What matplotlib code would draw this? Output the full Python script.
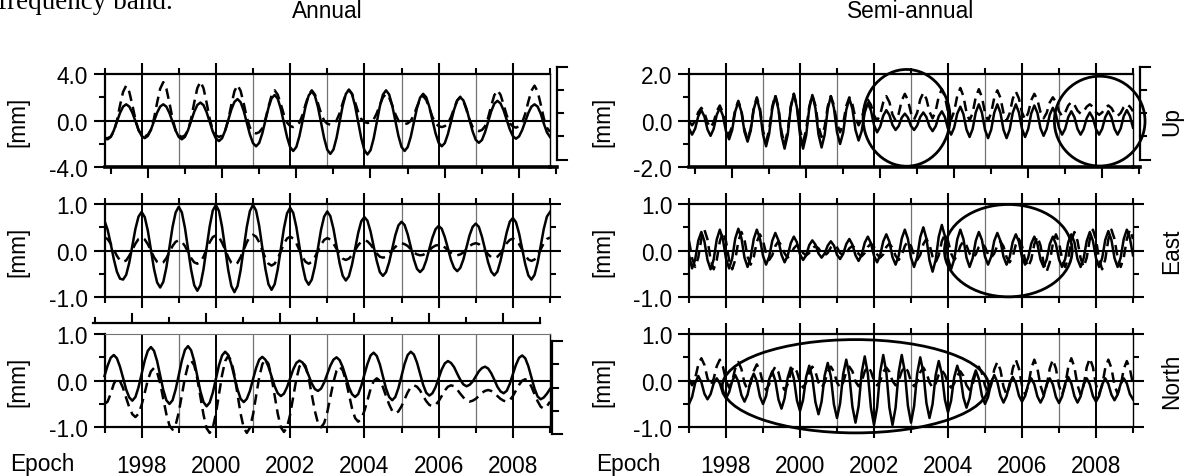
import numpy as np
import matplotlib.pyplot as plt
from matplotlib.patches import Ellipse
from matplotlib.ticker import FormatStrFormatter
from matplotlib.transforms import ScaledTranslation, blended_transform_factory

# values, one per month from 1997.0 to 2009.0  [mm]
annual_up_solid = [
    -1.55, -1.6, -1.4, -0.85, -0.1, 0.65, 1.2, 1.4, 1.21, 0.68, -0.05, -0.78,
    -1.31, -1.5, -1.31, -0.78, -0.05, 0.68, 1.21, 1.4, 1.2, 0.65, -0.1, -0.85,
    -1.4, -1.6, -1.39, -0.81, -0.03, 0.76, 1.34, 1.55, 1.33, 0.73, -0.1, -0.93,
    -1.53, -1.75, -1.51, -0.85, 0.05, 0.95, 1.61, 1.85, 1.58, 0.84, -0.18, -1.19,
    -1.93, -2.2, -1.91, -1.1, 0.0, 1.1, 1.91, 2.2, 1.88, 1.0, -0.2, -1.4,
    -2.28, -2.6, -2.26, -1.33, -0.05, 1.23, 2.16, 2.5, 2.14, 1.16, -0.18, -1.51,
    -2.49, -2.85, -2.48, -1.48, -0.1, 1.28, 2.28, 2.65, 2.28, 1.26, -0.13, -1.51,
    -2.53, -2.9, -2.53, -1.53, -0.15, 1.23, 2.23, 2.6, 2.25, 1.3, 0.0, -1.3,
    -2.25, -2.6, -2.27, -1.38, -0.15, 1.08, 1.97, 2.3, 2.0, 1.18, 0.05, -1.08,
    -1.9, -2.2, -1.92, -1.15, -0.1, 0.95, 1.72, 2.0, 1.74, 1.03, 0.05, -0.93,
    -1.64, -1.9, -1.66, -1.0, -0.1, 0.8, 1.46, 1.7, 1.48, 0.89, 0.08, -0.74,
    -1.33, -1.55, -1.35, -0.81, -0.08, 0.66, 1.2, 1.4, 1.2, 0.6, -0.25, -1.0,
    -1.4]
annual_up_dashed = [
    -1.5, -1.5, -1.37, -0.96, -0.02, 1.29, 2.46, 3.0, 2.48, 1.35, 0.09, -0.83,
    -1.22, -1.35, -1.21, -0.79, 0.18, 1.53, 2.74, 3.3, 2.74, 1.51, 0.15, -0.84,
    -1.26, -1.4, -1.26, -0.83, 0.17, 1.55, 2.78, 3.35, 2.78, 1.55, 0.17, -0.83,
    -1.26, -1.4, -1.27, -0.87, 0.07, 1.36, 2.52, 3.05, 2.55, 1.47, 0.27, -0.6,
    -0.98, -1.1, -0.99, -0.66, 0.12, 1.19, 2.16, 2.6, 2.22, 1.4, 0.49, -0.17,
    -0.46, -0.55, -0.46, -0.17, 0.49, 1.4, 2.22, 2.6, 2.25, 1.48, 0.62, 0.0,
    -0.26, -0.35, -0.26, 0.01, 0.64, 1.51, 2.29, 2.65, 2.31, 1.57, 0.74, 0.14,
    -0.11, -0.2, -0.13, 0.1, 0.63, 1.35, 2.0, 2.3, 1.99, 1.31, 0.56, 0.01,
    -0.22, -0.3, -0.23, -0.01, 0.49, 1.19, 1.81, 2.1, 1.78, 1.09, 0.32, -0.23,
    -0.47, -0.55, -0.47, -0.24, 0.31, 1.06, 1.74, 2.05, 1.7, 0.93, 0.07, -0.55,
    -0.81, -0.9, -0.8, -0.48, 0.26, 1.27, 2.18, 2.6, 2.22, 1.38, 0.46, -0.22,
    -0.5, -0.6, -0.49, -0.17, 0.59, 1.63, 2.57, 3.0, 2.5, 1.4, 0.2, -0.6,
    -0.95]
annual_east_solid = [
    0.64, 0.45, 0.15, -0.18, -0.45, -0.6, -0.62, -0.52, -0.26, 0.11, 0.47, 0.73,
    0.83, 0.72, 0.43, 0.02, -0.39, -0.68, -0.79, -0.67, -0.36, 0.08, 0.51, 0.82,
    0.94, 0.82, 0.49, 0.04, -0.41, -0.74, -0.86, -0.74, -0.4, 0.06, 0.52, 0.86,
    0.98, 0.85, 0.51, 0.05, -0.42, -0.76, -0.89, -0.76, -0.42, 0.05, 0.51, 0.85,
    0.98, 0.86, 0.53, 0.07, -0.39, -0.72, -0.84, -0.72, -0.4, 0.04, 0.48, 0.8,
    0.92, 0.81, 0.51, 0.1, -0.32, -0.62, -0.73, -0.62, -0.34, 0.06, 0.45, 0.73,
    0.84, 0.74, 0.47, 0.1, -0.27, -0.54, -0.64, -0.55, -0.3, 0.04, 0.38, 0.63,
    0.72, 0.64, 0.41, 0.09, -0.22, -0.46, -0.54, -0.46, -0.25, 0.04, 0.33, 0.54,
    0.62, 0.55, 0.35, 0.08, -0.19, -0.39, -0.46, -0.39, -0.21, 0.04, 0.28, 0.46,
    0.53, 0.47, 0.29, 0.05, -0.2, -0.37, -0.44, -0.37, -0.19, 0.07, 0.33, 0.51,
    0.58, 0.51, 0.3, 0.03, -0.25, -0.45, -0.53, -0.45, -0.22, 0.09, 0.39, 0.62,
    0.7, 0.61, 0.37, 0.04, -0.29, -0.53, -0.62, -0.52, -0.26, 0.11, 0.47, 0.73,
    0.83]
annual_east_dashed = [
    0.28, 0.25, 0.15, 0.02, -0.11, -0.21, -0.24, -0.21, -0.11, 0.02, 0.15, 0.25,
    0.28, 0.24, 0.14, 0.0, -0.14, -0.24, -0.28, -0.25, -0.16, -0.03, 0.1, 0.19,
    0.22, 0.19, 0.1, -0.03, -0.16, -0.25, -0.28, -0.24, -0.13, 0.03, 0.18, 0.29,
    0.33, 0.29, 0.17, 0.02, -0.14, -0.26, -0.3, -0.26, -0.14, 0.02, 0.18, 0.3,
    0.34, 0.3, 0.18, 0.01, -0.16, -0.28, -0.32, -0.28, -0.17, -0.01, 0.15, 0.26,
    0.3, 0.26, 0.16, 0.01, -0.14, -0.24, -0.28, -0.24, -0.14, 0.0, 0.13, 0.23,
    0.27, 0.24, 0.15, 0.04, -0.08, -0.17, -0.2, -0.17, -0.1, 0.01, 0.12, 0.19,
    0.22, 0.2, 0.13, 0.04, -0.06, -0.13, -0.15, -0.13, -0.07, 0.01, 0.08, 0.14,
    0.16, 0.14, 0.1, 0.03, -0.04, -0.08, -0.1, -0.09, -0.05, 0.01, 0.07, 0.11,
    0.12, 0.11, 0.07, 0.01, -0.05, -0.09, -0.1, -0.08, -0.04, 0.03, 0.1, 0.14,
    0.16, 0.14, 0.08, 0.0, -0.08, -0.14, -0.16, -0.13, -0.06, 0.05, 0.16, 0.23,
    0.26, 0.23, 0.14, 0.02, -0.1, -0.19, -0.22, -0.19, -0.1, 0.03, 0.16, 0.25,
    0.28]
annual_north_solid = [
    0.1, 0.32, 0.49, 0.55, 0.48, 0.3, 0.06, -0.19, -0.36, -0.43, -0.35, -0.14,
    0.15, 0.43, 0.64, 0.72, 0.64, 0.42, 0.11, -0.2, -0.42, -0.5, -0.42, -0.19,
    0.12, 0.43, 0.66, 0.74, 0.65, 0.42, 0.1, -0.23, -0.46, -0.55, -0.47, -0.26,
    0.04, 0.33, 0.54, 0.62, 0.55, 0.35, 0.08, -0.19, -0.39, -0.46, -0.39, -0.22,
    0.03, 0.27, 0.45, 0.51, 0.45, 0.3, 0.09, -0.12, -0.27, -0.33, -0.28, -0.14,
    0.05, 0.24, 0.38, 0.43, 0.39, 0.27, 0.11, -0.06, -0.18, -0.22, -0.17, -0.04,
    0.14, 0.32, 0.45, 0.5, 0.44, 0.29, 0.08, -0.14, -0.29, -0.35, -0.29, -0.11,
    0.13, 0.36, 0.54, 0.6, 0.53, 0.35, 0.09, -0.17, -0.35, -0.42, -0.35, -0.16,
    0.1, 0.36, 0.55, 0.62, 0.56, 0.39, 0.15, -0.09, -0.26, -0.32, -0.27, -0.14,
    0.05, 0.24, 0.37, 0.42, 0.38, 0.29, 0.15, 0.02, -0.08, -0.12, -0.09, -0.02,
    0.09, 0.2, 0.27, 0.3, 0.26, 0.16, 0.02, -0.13, -0.23, -0.27, -0.22, -0.07,
    0.14, 0.34, 0.49, 0.54, 0.48, 0.31, 0.07, -0.17, -0.34, -0.4, -0.36, -0.28,
    -0.18]
annual_north_dashed = [
    -0.5, -0.45, -0.28, -0.07, 0.05, -0.01, -0.16, -0.37, -0.57, -0.72, -0.78, -0.71,
    -0.52, -0.26, 0.01, 0.2, 0.27, 0.18, -0.06, -0.39, -0.72, -0.96, -1.05, -0.95,
    -0.68, -0.31, 0.06, 0.33, 0.43, 0.33, 0.04, -0.35, -0.73, -1.02, -1.12, -1.01,
    -0.71, -0.3, 0.12, 0.42, 0.53, 0.42, 0.12, -0.3, -0.71, -1.01, -1.12, -1.01,
    -0.73, -0.33, 0.07, 0.35, 0.46, 0.36, 0.07, -0.32, -0.71, -1.0, -1.1, -1.0,
    -0.73, -0.35, 0.03, 0.3, 0.4, 0.31, 0.05, -0.3, -0.65, -0.91, -1.0, -0.91,
    -0.68, -0.35, -0.03, 0.21, 0.3, 0.22, 0.01, -0.29, -0.59, -0.8, -0.88, -0.82,
    -0.65, -0.42, -0.18, -0.01, 0.05, 0.0, -0.14, -0.33, -0.51, -0.65, -0.7, -0.66,
    -0.55, -0.4, -0.25, -0.14, -0.1, -0.13, -0.21, -0.33, -0.44, -0.52, -0.55, -0.52,
    -0.44, -0.33, -0.21, -0.13, -0.1, -0.12, -0.19, -0.28, -0.36, -0.43, -0.45, -0.43,
    -0.39, -0.33, -0.26, -0.22, -0.2, -0.22, -0.26, -0.33, -0.39, -0.43, -0.45, -0.42,
    -0.33, -0.21, -0.09, 0.0, 0.03, -0.01, -0.13, -0.29, -0.44, -0.56, -0.6, -0.55,
    -0.45]
semi_up_solid = [
    -0.34, -0.6, -0.34, 0.19, 0.45, 0.18, -0.38, -0.65, -0.35, 0.25, 0.55, 0.21,
    -0.46, -0.8, -0.4, 0.4, 0.8, 0.38, -0.48, -0.9, -0.44, 0.49, 0.95, 0.44,
    -0.59, -1.1, -0.56, 0.51, 1.05, 0.49, -0.64, -1.2, -0.61, 0.56, 1.15, 0.56,
    -0.61, -1.2, -0.63, 0.53, 1.1, 0.54, -0.59, -1.15, -0.6, 0.5, 1.05, 0.54,
    -0.49, -1.0, -0.51, 0.46, 0.95, 0.5, -0.4, -0.85, -0.45, 0.35, 0.75, 0.44,
    -0.19, -0.5, -0.26, 0.21, 0.45, 0.24, -0.19, -0.4, -0.23, 0.13, 0.3, 0.13,
    -0.23, -0.4, -0.21, 0.16, 0.35, 0.15, -0.25, -0.45, -0.24, 0.19, 0.4, 0.15,
    -0.35, -0.6, -0.3, 0.3, 0.6, 0.28, -0.38, -0.7, -0.35, 0.35, 0.7, 0.34,
    -0.39, -0.75, -0.39, 0.34, 0.7, 0.34, -0.39, -0.75, -0.39, 0.34, 0.7, 0.35,
    -0.35, -0.7, -0.36, 0.31, 0.65, 0.33, -0.33, -0.65, -0.35, 0.25, 0.55, 0.26,
    -0.31, -0.6, -0.35, 0.15, 0.4, 0.15, -0.35, -0.6, -0.36, 0.11, 0.35, 0.11,
    -0.36, -0.6, -0.35, 0.15, 0.4, 0.15, -0.35, -0.6, -0.34, 0.19, 0.45, 0.2,
    -0.3]
semi_up_dashed = [
    -0.03, -0.2, -0.01, 0.36, 0.55, 0.34, -0.09, -0.3, -0.06, 0.41, 0.65, 0.34,
    -0.29, -0.6, -0.24, 0.49, 0.85, 0.44, -0.39, -0.8, -0.35, 0.55, 1.0, 0.53,
    -0.43, -0.9, -0.4, 0.6, 1.1, 0.58, -0.48, -1.0, -0.46, 0.61, 1.15, 0.64,
    -0.39, -0.9, -0.4, 0.6, 1.1, 0.65, -0.25, -0.7, -0.26, 0.61, 1.05, 0.66,
    -0.11, -0.5, -0.13, 0.63, 1.0, 0.7, 0.1, -0.2, 0.08, 0.63, 0.9, 0.68,
    0.23, 0.0, 0.26, 0.79, 1.05, 0.79, 0.26, 0.0, 0.29, 0.86, 1.15, 0.88,
    0.33, 0.05, 0.34, 0.91, 1.2, 0.93, 0.38, 0.1, 0.41, 1.04, 1.35, 1.03,
    0.38, 0.05, 0.39, 1.06, 1.4, 1.05, 0.35, 0.0, 0.34, 1.01, 1.35, 1.01,
    0.34, 0.0, 0.33, 0.98, 1.3, 0.98, 0.33, 0.0, 0.31, 0.94, 1.25, 0.95,
    0.35, 0.05, 0.33, 0.88, 1.15, 0.89, 0.36, 0.1, 0.33, 0.78, 1.0, 0.8,
    0.4, 0.2, 0.35, 0.65, 0.8, 0.68, 0.43, 0.3, 0.4, 0.6, 0.7, 0.59,
    0.36, 0.25, 0.35, 0.55, 0.65, 0.54, 0.31, 0.2, 0.33, 0.58, 0.7, 0.6,
    0.4]
semi_east_solid = [
    -0.1, -0.38, -0.19, 0.21, 0.4, 0.2, -0.2, -0.4, -0.19, 0.24, 0.45, 0.24,
    -0.17, -0.38, -0.17, 0.26, 0.47, 0.27, -0.15, -0.35, -0.15, 0.25, 0.45, 0.26,
    -0.11, -0.3, -0.13, 0.21, 0.38, 0.22, -0.09, -0.25, -0.11, 0.16, 0.3, 0.18,
    -0.08, -0.2, -0.1, 0.12, 0.22, 0.13, -0.06, -0.15, -0.06, 0.11, 0.2, 0.11,
    -0.09, -0.18, -0.07, 0.14, 0.25, 0.13, -0.1, -0.22, -0.09, 0.17, 0.3, 0.16,
    -0.11, -0.25, -0.1, 0.2, 0.35, 0.19, -0.14, -0.3, -0.11, 0.26, 0.45, 0.25,
    -0.15, -0.35, -0.14, 0.29, 0.5, 0.26, -0.21, -0.45, -0.2, 0.3, 0.55, 0.31,
    -0.16, -0.4, -0.19, 0.24, 0.45, 0.25, -0.15, -0.35, -0.16, 0.21, 0.4, 0.23,
    -0.13, -0.3, -0.13, 0.21, 0.38, 0.21, -0.13, -0.3, -0.14, 0.19, 0.35, 0.19,
    -0.14, -0.3, -0.15, 0.15, 0.3, 0.14, -0.19, -0.35, -0.19, 0.14, 0.3, 0.14,
    -0.19, -0.35, -0.18, 0.18, 0.35, 0.18, -0.18, -0.35, -0.16, 0.21, 0.4, 0.21,
    -0.16, -0.35, -0.16, 0.23, 0.42, 0.23, -0.16, -0.35, -0.15, 0.25, 0.45, 0.26,
    -0.1]
semi_east_dashed = [
    0.21, -0.16, -0.35, -0.15, 0.25, 0.45, 0.24, -0.19, -0.4, -0.2, 0.2, 0.4,
    0.2, -0.2, -0.4, -0.2, 0.2, 0.4, 0.23, -0.13, -0.3, -0.14, 0.19, 0.35,
    0.21, -0.06, -0.2, -0.1, 0.1, 0.2, 0.11, -0.06, -0.15, -0.08, 0.05, 0.12,
    0.07, -0.05, -0.1, -0.05, 0.05, 0.1, 0.05, -0.05, -0.1, -0.05, 0.07, 0.12,
    0.07, -0.05, -0.1, -0.05, 0.05, 0.1, 0.05, -0.07, -0.12, -0.05, 0.08, 0.15,
    0.08, -0.08, -0.15, -0.08, 0.08, 0.15, 0.06, -0.11, -0.2, -0.1, 0.1, 0.2,
    0.1, -0.1, -0.2, -0.09, 0.14, 0.25, 0.13, -0.13, -0.25, -0.1, 0.2, 0.35,
    0.21, -0.06, -0.2, -0.1, 0.1, 0.2, 0.11, -0.06, -0.15, -0.08, 0.08, 0.15,
    0.08, -0.08, -0.15, -0.06, 0.11, 0.2, 0.09, -0.14, -0.25, -0.13, 0.13, 0.25,
    0.1, -0.2, -0.35, -0.19, 0.14, 0.3, 0.11, -0.26, -0.45, -0.25, 0.15, 0.35,
    0.18, -0.18, -0.35, -0.16, 0.21, 0.4, 0.21, -0.16, -0.35, -0.15, 0.25, 0.45,
    0.24, -0.19, -0.4, -0.19, 0.24, 0.45, 0.25, -0.15, -0.35, -0.15, 0.25, 0.45,
    0.25]
semi_north_solid = [
    -0.5, -0.35, -0.05, 0.1, -0.03, -0.28, -0.4, -0.29, -0.06, 0.05, -0.06, -0.27,
    -0.38, -0.25, -0.01, 0.12, -0.02, -0.31, -0.45, -0.3, 0.0, 0.15, -0.01, -0.34,
    -0.5, -0.33, 0.03, 0.2, 0.0, -0.4, -0.6, -0.38, 0.06, 0.28, 0.05, -0.42,
    -0.65, -0.41, 0.08, 0.32, 0.06, -0.46, -0.72, -0.45, 0.11, 0.38, 0.09, -0.51,
    -0.8, -0.49, 0.14, 0.45, 0.11, -0.56, -0.9, -0.55, 0.17, 0.52, 0.15, -0.58,
    -0.95, -0.58, 0.18, 0.55, 0.18, -0.58, -0.95, -0.58, 0.18, 0.55, 0.19, -0.54,
    -0.9, -0.55, 0.15, 0.5, 0.18, -0.48, -0.8, -0.5, 0.12, 0.42, 0.15, -0.41,
    -0.68, -0.43, 0.07, 0.32, 0.1, -0.36, -0.58, -0.38, 0.02, 0.22, 0.04, -0.32,
    -0.5, -0.35, -0.04, 0.12, -0.03, -0.32, -0.47, -0.33, -0.06, 0.08, -0.05, -0.32,
    -0.45, -0.33, -0.08, 0.05, -0.08, -0.34, -0.47, -0.34, -0.08, 0.05, -0.08, -0.35,
    -0.48, -0.34, -0.06, 0.08, -0.06, -0.33, -0.47, -0.34, -0.08, 0.05, -0.08, -0.33,
    -0.45, -0.33, -0.08, 0.05, -0.07, -0.3, -0.42, -0.3, -0.07, 0.05, -0.06, -0.29,
    -0.4]
semi_north_dashed = [
    0.03, -0.1, 0.05, 0.34, 0.48, 0.34, 0.05, -0.1, 0.04, 0.31, 0.45, 0.3,
    0.0, -0.15, -0.01, 0.26, 0.4, 0.25, -0.05, -0.2, -0.06, 0.21, 0.35, 0.21,
    -0.06, -0.2, -0.08, 0.18, 0.3, 0.18, -0.08, -0.2, -0.08, 0.18, 0.3, 0.19,
    -0.04, -0.15, -0.04, 0.19, 0.3, 0.19, -0.04, -0.15, -0.04, 0.19, 0.3, 0.19,
    -0.04, -0.15, -0.04, 0.19, 0.3, 0.2, -0.02, -0.12, -0.02, 0.2, 0.3, 0.2,
    0.0, -0.1, -0.01, 0.19, 0.28, 0.19, -0.01, -0.1, 0.0, 0.2, 0.3, 0.2,
    -0.02, -0.12, -0.02, 0.18, 0.28, 0.17, -0.04, -0.15, -0.06, 0.13, 0.22, 0.13,
    -0.06, -0.15, -0.06, 0.11, 0.2, 0.1, -0.1, -0.2, -0.08, 0.18, 0.3, 0.16,
    -0.11, -0.25, -0.09, 0.24, 0.4, 0.23, -0.13, -0.3, -0.11, 0.26, 0.45, 0.26,
    -0.11, -0.3, -0.11, 0.26, 0.45, 0.26, -0.11, -0.3, -0.11, 0.26, 0.45, 0.26,
    -0.11, -0.3, -0.1, 0.29, 0.48, 0.29, -0.1, -0.3, -0.1, 0.29, 0.48, 0.29,
    -0.09, -0.28, -0.1, 0.27, 0.45, 0.27, -0.1, -0.28, -0.11, 0.25, 0.42, 0.25,
    -0.08]

components = ['Up', 'East', 'North']
year_ticks = [1998, 2000, 2002, 2004, 2006, 2008]

plt.rcParams['font.family'] = ['Liberation Sans', 'DejaVu Sans']
plt.rcParams['axes.unicode_minus'] = False

W, H = 1191, 477
fig = plt.figure(figsize=(W / 100, H / 100), dpi=100)

col_x = [104.5, 689]
col_w = [445.5, 444]
row_top = [75, 205, 335]
row_h = 93.3
FS = 16.3
LW = 1.8


def shift(dx, dy):
    # offset in pixels (figure saved at dpi 100)
    return ScaledTranslation(dx / 100, dy / 100, fig.dpi_scale_trans)


def draw_panel(ax, solid, dashed, lim, bottom_row):
    t1 = 1997 + np.arange(len(solid)) / 12
    t2 = 1997 + np.arange(len(dashed)) / 12
    ax.set_xlim(1997, 2009)
    ax.set_ylim(-lim, lim)
    for yr in range(1998, 2009):
        if yr % 2 == 0:
            ax.axvline(yr, color='black', lw=1.4, zorder=1)
        else:
            ax.axvline(yr, color='0.45', lw=0.9, zorder=1)
    ax.axhline(0, color='black', lw=1.5, zorder=1)
    ax.plot(t1, solid, color='black', lw=LW, zorder=3)
    ax.plot(t2, dashed, color='black', lw=LW, dashes=(4.2, 2.4), zorder=3)
    for s in ax.spines.values():
        s.set_linewidth(1.6)
    ax.spines['right'].set_linewidth(1.0)
    ax.set_xticks(year_ticks)
    ax.set_xticks(range(1997, 2010, 2), minor=True)
    ax.set_yticks([-lim, 0, lim])
    ax.set_yticks([-lim / 2, lim / 2], minor=True)
    ax.yaxis.set_major_formatter(FormatStrFormatter('%.1f'))
    ax.tick_params(which='both', direction='out', width=1.5, top=True, right=True,
                   labelsize=FS)
    ax.tick_params(which='major', length=8)
    ax.tick_params(which='minor', length=4)
    ax.tick_params(axis='x', pad=11, labelbottom=bottom_row)
    ax.tick_params(axis='y', pad=4)


def bracket(ax, dx, dy):
    # right hand axis drawn slightly out of register, as in the source
    ax.tick_params(axis='y', which='both', right=False)
    w = ax.get_position().width * W
    tr = ax.transAxes + shift(dx, dy)
    ax.plot([1, 1], [0, 1], transform=tr, color='black', lw=1.6, clip_on=False)
    for f in [0, 0.25, 0.5, 0.75, 1]:
        ln = 10 if f in (0, 1) else 6
        ax.plot([1, 1 + ln / w], [f, f], transform=tr, color='black', lw=1.5,
                clip_on=False)


def shifted_bottom(ax, dx):
    ax.tick_params(axis='x', which='both', bottom=False)
    ax.spines['bottom'].set_linewidth(2.6)
    w = ax.get_position().width * W
    h = ax.get_position().height * H
    ax.plot([1, 1 + 7 / w], [0, 0], transform=ax.transAxes, color='black', lw=2.6,
            clip_on=False)
    tr = blended_transform_factory(ax.transData, ax.transAxes) + shift(dx, 0)
    for yr in range(1997, 2010):
        ln = 10 if yr % 2 == 0 else 6
        ax.plot([yr, yr], [0, -ln / h], transform=tr, color='black', lw=1.5,
                clip_on=False)


def shifted_top(ax, dx, dy):
    ax.tick_params(axis='x', which='both', top=False)
    ax.spines['top'].set_linewidth(0.8)
    ax.spines['top'].set_color('0.45')
    w = ax.get_position().width * W
    h = ax.get_position().height * H
    ax.plot([-11.5 / w, 1 + dx / w], [1, 1], transform=ax.transAxes + shift(0, dy),
            color='black', lw=1.6, clip_on=False)
    tr = blended_transform_factory(ax.transData, ax.transAxes) + shift(dx, dy)
    for yr in range(1997, 2010):
        ln = 9 if yr % 2 == 0 else 5
        ax.plot([yr, yr], [1, 1 + ln / h], transform=tr, color='black', lw=1.5,
                clip_on=False)


axes = {}
for c in range(2):
    for r in range(3):
        axes[(r, c)] = fig.add_axes([col_x[c] / W, 1 - (row_top[r] + row_h) / H,
                                     col_w[c] / W, row_h / H])

draw_panel(axes[(0, 0)], annual_up_solid, annual_up_dashed, 4.0, False)
draw_panel(axes[(1, 0)], annual_east_solid, annual_east_dashed, 1.0, False)
draw_panel(axes[(2, 0)], annual_north_solid, annual_north_dashed, 1.0, True)
draw_panel(axes[(0, 1)], semi_up_solid, semi_up_dashed, 2.0, False)
draw_panel(axes[(1, 1)], semi_east_solid, semi_east_dashed, 1.0, False)
draw_panel(axes[(2, 1)], semi_north_solid, semi_north_dashed, 1.0, True)

# lines in the north panel run a little past the bottom of the frame
for ln in axes[(2, 0)].lines[-2:]:
    ln.set_clip_on(False)

for c in range(2):
    bracket(axes[(0, c)], 7, 7.5)
    shifted_bottom(axes[(0, c)], 6)
bracket(axes[(2, 0)], 2, -7)
shifted_top(axes[(2, 0)], -10, 11)

# circled regions
ell = dict(fill=False, edgecolor='black', lw=2.0, clip_on=False, zorder=4)
axes[(0, 1)].add_patch(Ellipse((2002.88, 0.12), 2.35, 4.15, **ell))
axes[(0, 1)].add_patch(Ellipse((2008.1, -0.02), 2.45, 3.85, **ell))
axes[(1, 1)].add_patch(Ellipse((2005.63, 0.0), 3.45, 1.98, **ell))
axes[(2, 1)].add_patch(Ellipse((2001.5, -0.12), 7.2, 2.0, **ell))

# texts (the caption line above is cut at the top edge, as in the source)
fig.text(-2 / W, 1 - 9 / H, 'frequency band.', family=['Liberation Serif', 'DejaVu Serif'],
         fontsize=19.5, ha='left', va='baseline')
fig.text(327 / W, 1 - 12 / H, 'Annual', ha='center', va='center', fontsize=FS)
fig.text(911 / W, 1 - 12 / H, 'Semi-annual', ha='center', va='center', fontsize=FS)
for r, name in enumerate(components):
    yc = 1 - (row_top[r] + row_h / 2) / H
    fig.text(18 / W, yc, '[mm]', rotation=90, ha='center', va='center', fontsize=FS)
    fig.text(603 / W, yc, '[mm]', rotation=90, ha='center', va='center', fontsize=FS)
    fig.text(1172 / W, yc, name, rotation=90, ha='center', va='center', fontsize=FS)
fig.text(42 / W, 1 - 465 / H, 'Epoch', ha='center', va='center', fontsize=FS)
fig.text(628 / W, 1 - 465 / H, 'Epoch', ha='center', va='center', fontsize=FS)

fig.savefig('out.png', dpi=100)
